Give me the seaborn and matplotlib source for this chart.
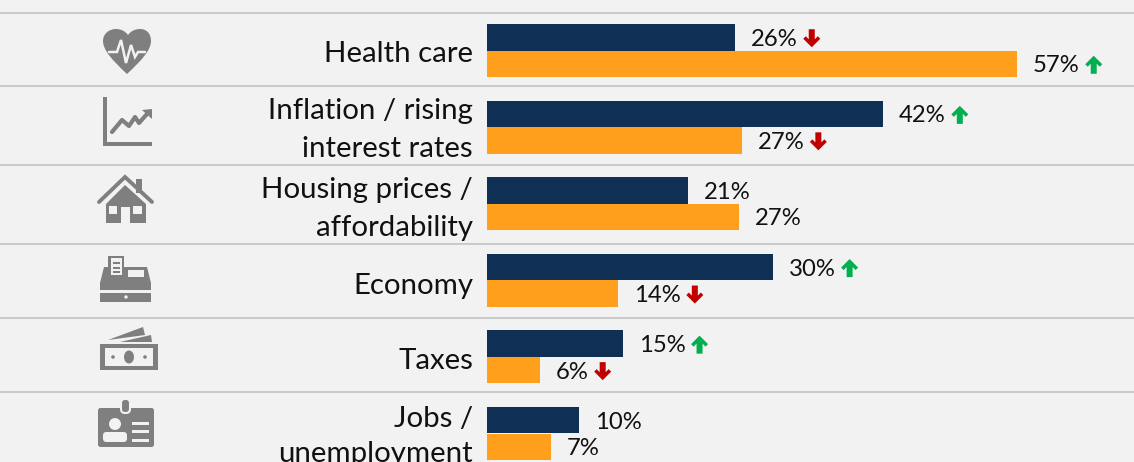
import numpy as np
import pandas as pd
import seaborn as sns
import matplotlib.pyplot as plt
from matplotlib.patches import Polygon, Rectangle, Circle, Ellipse, FancyBboxPatch, PathPatch
from matplotlib.path import Path
from matplotlib.transforms import ScaledTranslation

# dados
categorias = ['Health care', 'Inflation / rising\ninterest rates', 'Housing prices /\naffordability',
              'Economy', 'Taxes', 'Jobs /\nunemployment']
valores_a = [26.3, 42.0, 21.3, 30.3, 14.4, 9.8]
valores_b = [56.2, 27.0, 26.7, 13.9, 5.6, 6.8]
rotulos_a = ['26%', '42%', '21%', '30%', '15%', '10%']
rotulos_b = ['57%', '27%', '27%', '14%', '6%', '7%']
setas_a = ['down', 'up', None, 'up', 'up', None]
setas_b = ['up', 'down', None, 'down', 'down', None]

# estilo
FUNDO = '#f2f2f2'
CINZA = '#7f7f7f'
AZUL = '#0f2f54'
LARANJA = '#ff9f1c'
VERMELHO = '#c00000'
VERDE = '#00b050'
LINHA = '#c9c9c9'
W, H = 1134, 462
X0 = 487            # pixel do zero
PX_POR_PCT = 9.43
PASSO = 76.6        # distancia entre grupos
Y0 = 50.5           # centro do primeiro grupo

sns.set_theme(style='white')
plt.rcParams['font.family'] = ['Lato', 'DejaVu Sans']
plt.rcParams['text.color'] = '#111111'

df = pd.DataFrame({
    'categoria': categorias * 2,
    'valor': valores_a + valores_b,
    'serie': ['a'] * 6 + ['b'] * 6,
})

fig = plt.figure(figsize=(W / 100, H / 100), dpi=100, facecolor=FUNDO)

# camada em pixels para separadores, icones e setas
fundo = fig.add_axes([0, 0, 1, 1], zorder=0)
fundo.set_xlim(0, W)
fundo.set_ylim(H, 0)
fundo.axis('off')

ax = fig.add_axes([X0 / W, 0, (W - X0) / W, 1], zorder=1)
ax.patch.set_alpha(0)
sns.barplot(data=df, y='categoria', x='valor', hue='serie', palette=[AZUL, LARANJA],
            width=53 / PASSO, saturation=1, legend=False, linewidth=0, ax=ax)
ax.set_xlim(0, (W - X0) / PX_POR_PCT)
ax.set_ylim((H - Y0) / PASSO, -Y0 / PASSO)
ax.set_xlabel('')
ax.set_ylabel('')
ax.set_xticks([])
ax.tick_params(axis='y', length=0, pad=10, labelsize=21.2, labelcolor='#111111')
# ajuste vertical de cada rotulo, em pixels (positivo sobe)
ajustes = [-1.5, 6, 3, -3.5, -1.5, 4]
entrelinhas = [1.58, 1.58, 1.58, 1.58, 1.58, 1.41]
for t, dy, esp in zip(ax.get_yticklabels(), ajustes, entrelinhas):
    t.set_linespacing(esp)
    t.set_transform(t.get_transform() + ScaledTranslation(0, dy / 100, fig.dpi_scale_trans))
sns.despine(ax=ax, left=True, bottom=True)

# separadores
for y in [13, 86, 165, 244, 318, 392]:
    fundo.plot([0, W], [y, y], color=LINHA, lw=1.4, solid_capstyle='butt')


def seta(cx, cy, direcao):
    s = -1 if direcao == 'up' else 1
    cor = VERDE if direcao == 'up' else VERMELHO
    pts = [(-3, -9), (3, -9), (3, 1), (6, -2), (8.5, 0.5), (0, 9), (-8.5, 0.5), (-6, -2), (-3, 1)]
    fundo.add_patch(Polygon([(cx + x, cy + s * y) for x, y in pts], closed=True, color=cor, lw=0))


# rotulos e setas
fig.canvas.draw()
renderer = fig.canvas.get_renderer()
rotulos = [rotulos_a, rotulos_b]
setas = [setas_a, setas_b]
for k, barras in enumerate(ax.containers):
    for i, b in enumerate(barras):
        yc = b.get_y() + b.get_height() / 2
        txt = ax.text(b.get_width() + 16 / PX_POR_PCT, yc + 2 / PASSO, rotulos[k][i],
                      va='center', ha='left', fontsize=17.2)
        if setas[k][i]:
            ext = txt.get_window_extent(renderer)
            yp = H - ax.transData.transform((0, yc))[1]
            seta(ext.x1 + 14, yp + 1, setas[k][i])


# icones: coordenadas em pixels da imagem
def caixa(x0, y0, x1, y1, cor=CINZA):
    fundo.add_patch(Rectangle((x0, y0), x1 - x0, y1 - y0, color=cor, lw=0))


def poli(pts, cor=CINZA):
    fundo.add_patch(Polygon(pts, closed=True, color=cor, lw=0))


# coracao
verts = [(127, 74), (112, 60), (103, 50), (103, 41), (103, 33), (110, 29), (116, 29),
         (121, 29), (125, 31), (128, 35), (131, 31), (135, 29), (140, 29), (146, 29),
         (151, 33), (151, 41), (151, 50), (142, 60), (127, 74)]
codes = [Path.MOVETO] + [Path.CURVE4] * 18
fundo.add_patch(PathPatch(Path(verts, codes), color=CINZA, lw=0))
fundo.plot([109, 117, 121, 126, 131, 135, 138, 145], [52, 52, 40, 63, 45, 57, 52, 52],
           color=FUNDO, lw=1.8, solid_joinstyle='miter')

# grafico de linha
caixa(103, 97, 107, 146)
caixa(103, 142, 152, 146)
fundo.plot([112, 122, 129, 135, 139, 147], [132, 120, 126, 117, 123, 114], color=CINZA, lw=3,
           solid_joinstyle='round')
poli([(142, 110), (152, 109), (152, 119)])

# casa
fundo.plot([99, 125, 152], [202, 177, 202], color=CINZA, lw=2.8, solid_joinstyle='miter')
caixa(136, 179, 142, 193)
poli([(106, 204), (125, 185), (146, 204), (146, 223), (130, 223), (130, 207), (121, 207),
      (121, 223), (106, 223)])
caixa(109, 206, 117, 214, FUNDO)
caixa(133, 206, 142, 214, FUNDO)

# caixa registradora
poli([(104, 267), (147, 267), (151, 283), (151, 290), (100, 290), (100, 283)])
caixa(108, 256, 124, 277)
caixa(111, 258, 122, 275, FUNDO)
for y in [262, 267, 271]:
    caixa(113, y, 120, y + 2)
caixa(128, 270, 144, 277, FUNDO)
caixa(100, 293, 151, 302)
fundo.add_patch(Circle((126, 297), 1.7, color=FUNDO, lw=0))

# dinheiro
caixa(100, 344, 158, 370)
caixa(105, 348, 153, 366, FUNDO)
fundo.add_patch(Ellipse((129, 357), 10, 13, color=CINZA, lw=0))
fundo.add_patch(Circle((113, 357), 1.8, color=CINZA, lw=0))
fundo.add_patch(Circle((145, 357), 1.8, color=CINZA, lw=0))
poli([(108, 340), (143, 327), (145, 335)])
poli([(120, 342), (151, 335), (152, 342)])

# cracha
fundo.add_patch(FancyBboxPatch((98, 408), 56, 39, boxstyle='round,pad=0,rounding_size=2.5',
                               color=CINZA, lw=0))
fundo.add_patch(FancyBboxPatch((121, 399), 9, 14, boxstyle='round,pad=0,rounding_size=4',
                               facecolor=CINZA, edgecolor=FUNDO, lw=1.5))
fundo.add_patch(Circle((115, 424), 6, color=FUNDO, lw=0))
fundo.add_patch(FancyBboxPatch((103, 432), 24, 10, boxstyle='round,pad=0,rounding_size=3.5',
                               color=FUNDO, lw=0))
for y in [422, 430, 439]:
    caixa(132, y, 149, y + 3, FUNDO)

fig.savefig('out.png', dpi=100, facecolor=FUNDO)
